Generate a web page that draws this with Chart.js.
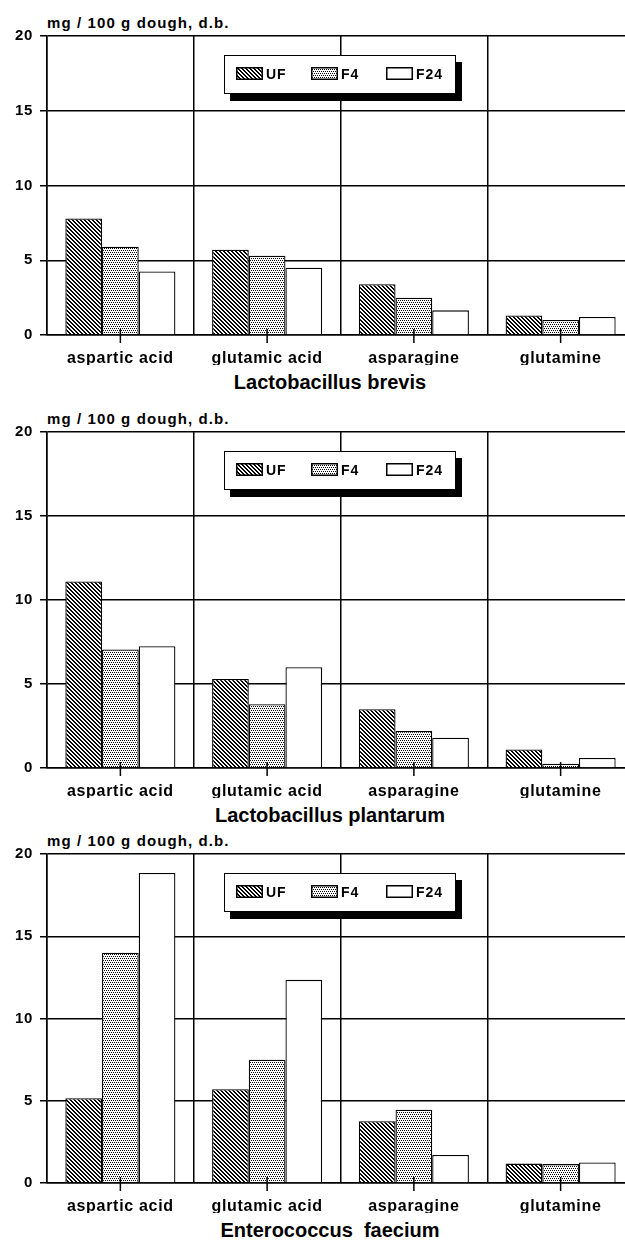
<!DOCTYPE html>
<html><head><meta charset="utf-8">
<script src="https://cdn.jsdelivr.net/npm/chart.js@4/dist/chart.umd.min.js"></script>
<style>
html,body{margin:0;padding:0;background:#fff;width:625px;height:1240px;overflow:hidden;}
#page{position:relative;width:625px;height:1240px;overflow:hidden;font-family:"Liberation Sans",Arial,sans-serif;color:#000;}
#page canvas.chart{position:absolute;left:0;}
.unit{position:absolute;left:47px;font-weight:bold;font-size:15px;letter-spacing:1.1px;line-height:1;transform:translateY(-50%);white-space:pre;}
.title{position:absolute;font-weight:bold;font-size:20px;line-height:1;white-space:pre;transform:translate(-50%,-50%);}
.legend{position:absolute;left:224px;width:232px;height:39px;border:1.5px solid #000;background:#fff;box-shadow:6px 7px 0 #000;box-sizing:border-box;}
.legend canvas{position:absolute;top:11px;}
.lt{position:absolute;top:11px;font-weight:bold;font-size:14px;letter-spacing:1px;line-height:14px;}
</style></head>
<body><div id="page"></div>
<script>
// ---- data ----
const categories = ['aspartic acid', 'glutamic acid', 'asparagine', 'glutamine'];
const seriesNames = ['UF', 'F4', 'F24'];
const yTicks = [0, 5, 10, 15, 20];
const unitLabel = 'mg / 100 g dough, d.b.';
const panelTitles = ['Lactobacillus brevis', 'Lactobacillus plantarum', 'Enterococcus  faecium'];

const brevisUF  = [7.8, 5.7, 3.4, 1.3];
const brevisF4  = [5.9, 5.3, 2.5, 1.0];
const brevisF24 = [4.25, 4.5, 1.65, 1.2];

const plantarumUF  = [11.1, 5.3, 3.5, 1.1];
const plantarumF4  = [7.05, 3.8, 2.2, 0.25];
const plantarumF24 = [7.25, 6.0, 1.8, 0.6];

const faeciumUF  = [5.15, 5.7, 3.75, 1.18];
const faeciumF4  = [14.0, 7.5, 4.45, 1.15];
const faeciumF24 = [18.85, 12.35, 1.7, 1.25];

// ---- layout / styles ----
const panelLayout = [
  {top: 0,   y20: 36,  y0: 335},
  {top: 396, y20: 432, y0: 768},
  {top: 818, y20: 854, y0: 1183}
];
const panelValues = [
  [brevisUF, brevisF4, brevisF24],
  [plantarumUF, plantarumF4, plantarumF24],
  [faeciumUF, faeciumF4, faeciumF24]
];
const FONT = '"Liberation Sans", Arial, sans-serif';
Chart.defaults.font.family = FONT;
Chart.defaults.color = '#000';

function makeTile(size, isBlack) {
  const c = document.createElement('canvas');
  c.width = size; c.height = size;
  const x = c.getContext('2d');
  x.fillStyle = '#fff'; x.fillRect(0, 0, size, size);
  x.fillStyle = '#000';
  for (let i = 0; i < size; i++) for (let j = 0; j < size; j++) if (isBlack(i, j)) x.fillRect(i, j, 1, 1);
  return c;
}
const hatchTile = makeTile(4, (i, j) => (((i - j) % 4) + 4) % 4 < 2);
const dotTile = makeTile(4, (i, j) => (j === 0 && (i === 0 || i === 2)) || (j === 2 && (i === 1 || i === 3)));
function fillFor(ctx, k) {
  if (k === 0) return ctx.createPattern(hatchTile, 'repeat');
  if (k === 1) return ctx.createPattern(dotTile, 'repeat');
  return '#fff';
}

const centerTicks = {
  id: 'centerTicks',
  beforeDraw(chart) { chart.ctx.letterSpacing = '0.7px'; },
  afterDatasetsDraw(chart) {
    const xs = chart.scales.x, ys = chart.scales.y, ctx = chart.ctx;
    const y0 = ys.getPixelForValue(0);
    ctx.save();
    ctx.strokeStyle = '#000'; ctx.lineWidth = 1.5;
    xs.ticks.forEach((t, i) => {
      const x = xs.getPixelForTick(i);
      ctx.beginPath(); ctx.moveTo(x, y0 - 6); ctx.lineTo(x, y0 + 8); ctx.stroke();
    });
    ctx.restore();
  }
};

const page = document.getElementById('page');

panelLayout.forEach((L, p) => {
  // unit label
  const u = document.createElement('div');
  u.className = 'unit'; u.textContent = unitLabel; u.style.top = (L.y20 - 14) + 'px';
  page.appendChild(u);

  const cv = document.createElement('canvas');
  cv.className = 'chart';
  const H = L.y0 - L.top + 30;
  cv.width = 640; cv.height = H;
  cv.style.width = '640px'; cv.style.height = H + 'px';
  cv.style.top = L.top + 'px';
  page.appendChild(cv);
  const ctx = cv.getContext('2d');

  new Chart(cv, {
    type: 'bar',
    data: {
      labels: categories,
      datasets: seriesNames.map((n, k) => ({
        label: n,
        data: panelValues[p][k],
        backgroundColor: fillFor(ctx, k),
        borderColor: '#000',
        borderWidth: 1.3,
        categoryPercentage: 0.75,
        barPercentage: 1.0
      }))
    },
    options: {
      responsive: false,
      animation: false,
      devicePixelRatio: 1,
      layout: {padding: {top: L.y20 - L.top, right: 6, left: 0, bottom: 0}},
      plugins: {legend: {display: false}, tooltip: {enabled: false}, title: {display: false}},
      scales: {
        x: {
          grid: {offset: true, color: '#000', lineWidth: 1.5, drawTicks: false},
          border: {color: '#000', width: 1.5},
          ticks: {color: '#000', font: {size: 16, weight: 'bold'}, padding: 14, maxRotation: 0, autoSkip: false},
          afterFit(s) { s.height = 30; }
        },
        y: {
          min: 0, max: 20,
          afterBuildTicks(s) { s.ticks = yTicks.map(v => ({value: v})); },
          ticks: {color: '#000', font: {size: 15, weight: 'bold'}, padding: 7},
          grid: {color: '#000', lineWidth: 1.5, tickLength: 7},
          border: {color: '#000', width: 1.5},
          afterFit(s) { s.width = 47; }
        }
      }
    },
    plugins: [centerTicks]
  });

  // legend
  const lg = document.createElement('div');
  lg.className = 'legend'; lg.style.top = (L.y20 + 19) + 'px';
  seriesNames.forEach((n, k) => {
    const sw = document.createElement('canvas');
    sw.width = 27; sw.height = 13;
    sw.style.left = (11 + k * 75) + 'px';
    const c2 = sw.getContext('2d');
    c2.fillStyle = fillFor(c2, k); c2.fillRect(0, 0, 27, 13);
    c2.strokeStyle = '#000'; c2.lineWidth = 1.5; c2.strokeRect(0.75, 0.75, 25.5, 11.5);
    lg.appendChild(sw);
    const t = document.createElement('span');
    t.className = 'lt'; t.textContent = n; t.style.left = (41 + k * 75) + 'px';
    lg.appendChild(t);
  });
  page.appendChild(lg);

  // species title
  const ti = document.createElement('div');
  ti.className = 'title'; ti.textContent = panelTitles[p];
  ti.style.left = '330px'; ti.style.top = (L.y0 + 47) + 'px';
  page.appendChild(ti);
});
</script>
</body></html>
